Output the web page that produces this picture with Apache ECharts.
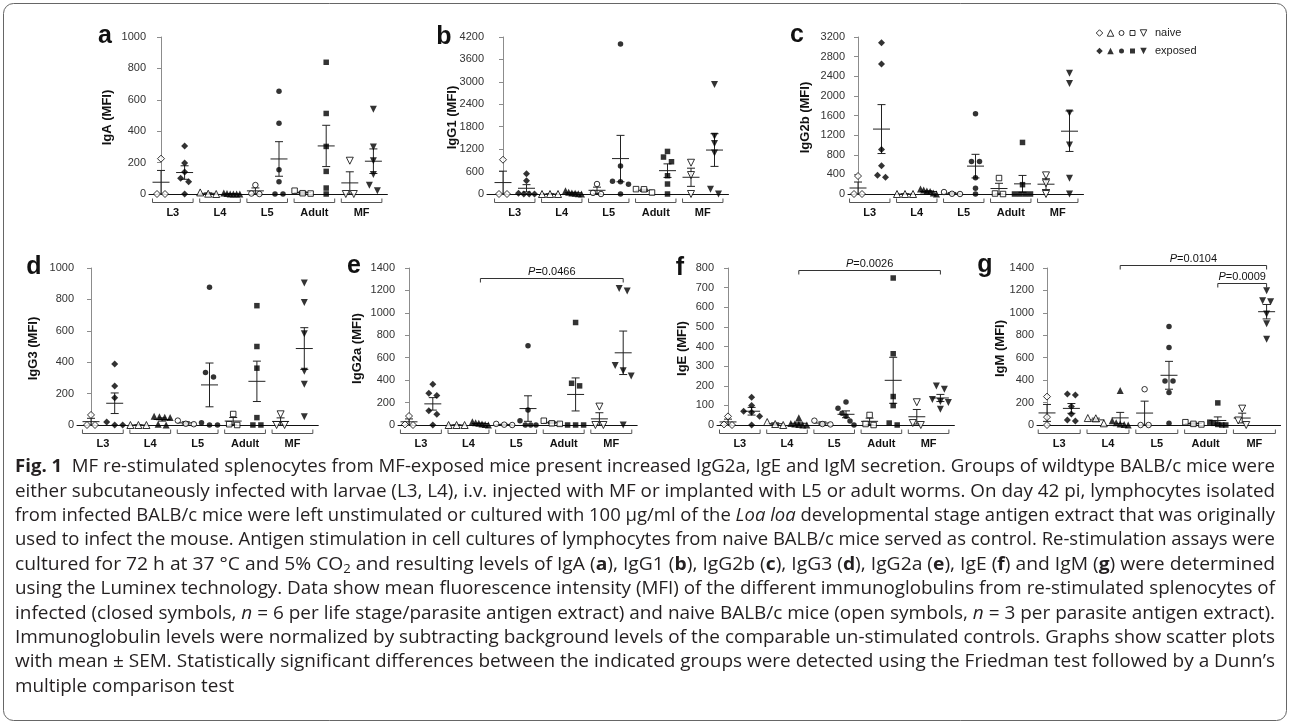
<!DOCTYPE html>
<html><head><meta charset="utf-8">
<script src="https://cdn.jsdelivr.net/npm/echarts/dist/echarts.min.js"></script>
<style>html,body{margin:0;padding:0;background:#fff}#c{width:1290px;height:724px}</style>
</head><body><div id="c"></div>
<script>
// ---------------- DATA ----------------
const groups = ['L3', 'L4', 'L5', 'Adult', 'MF'];
const panelLetters = ['a', 'b', 'c', 'd', 'e', 'f', 'g'];
const panelTitles = ['IgA (MFI)', 'IgG1 (MFI)', 'IgG2b (MFI)', 'IgG3 (MFI)', 'IgG2a (MFI)', 'IgE (MFI)', 'IgM (MFI)'];
const yMaxes = [1000, 4200, 3200, 1000, 1400, 800, 1400];
const yIntervals = [200, 600, 400, 200, 200, 100, 200];

// values per group [L3, L4, L5, Adult, MF]
const igA_naive = [[225, 0, 0], [10, 2, 0], [57, 3, 0], [21, 5, 3], [212, 0, 0]];
const igA_exposed = [[305, 197, 140, 100, 78, 0], [6, 3, 0, 0, 0, 0], [655, 451, 155, 78, 0, 0], [839, 513, 303, 144, 38, 0], [540, 300, 212, 125, 55, 21]];
const igG1_naive = [[917, 0, 0], [0, 0, 0], [267, 30, 0], [130, 125, 40], [836, 507, 0]];
const igG1_exposed = [[543, 356, 20, 0, 0, 0], [90, 50, 30, 20, 5, 0], [4013, 747, 338, 329, 258, 0], [1139, 988, 863, 489, 267, 0], [2928, 1548, 1352, 1100, 125, 0]];
const igG2b_naive = [[366, 0, 0], [0, 0, 0], [40, 5, 0], [325, 10, 0], [380, 220, 0]];
const igG2b_exposed = [[3085, 2651, 908, 576, 380, 339], [100, 80, 60, 50, 20, 0], [1634, 664, 664, 332, 115, 0], [1051, 190, 0, 0, 0, 0], [2460, 2250, 1650, 1000, 320, 0]];
const igG3_naive = [[64, 0, 0], [0, 0, 0], [28, 8, 5], [70, 5, 0], [68, 0, 0]];
const igG3_exposed = [[389, 249, 174, 19, 0, 0], [55, 52, 50, 48, 5, 0], [877, 334, 306, 15, 0, 0], [760, 500, 362, 47, 0, 0], [904, 781, 581, 343, 260, 53]];
const igG2a_naive = [[80, 5, 0], [0, 0, 0], [10, 3, 0], [38, 15, 10], [164, 0, 0]];
const igG2a_exposed = [[363, 283, 262, 128, 95, 0], [30, 20, 15, 10, 5, 0], [706, 134, 39, 0, 0, 0], [914, 372, 349, 0, 0, 0], [1218, 1194, 530, 483, 438, 0]];
const igE_naive = [[44, 3, 0], [15, 5, 0], [22, 5, 3], [51, 5, 0], [116, 10, 0]];
const igE_exposed = [[141, 100, 70, 65, 45, 0], [37, 8, 5, 3, 0, 0], [117, 85, 60, 45, 20, 0], [749, 363, 145, 99, 10, 0], [199, 182, 130, 120, 115, 80]];
const igM_naive = [[253, 70, 0], [62, 60, 15], [319, 0, 0], [25, 10, 5], [146, 40, 0]];
const igM_exposed = [[277, 268, 164, 98, 45, 36], [307, 39, 20, 10, 5, 0], [879, 691, 393, 393, 289, 15], [197, 25, 15, 5, 0, 0], [1197, 1108, 1100, 989, 903, 765]];

// significance annotations
const pLabels = ['0.0466', '0.0026', '0.0104', '0.0009'];
const pPanels = [4, 5, 6, 6];
const pFromCol = [3, 3, 3, 7];
const pToCol = [9, 9, 9, 9];

const captionLines = [
  '{b|Fig. 1} ~ MF re-stimulated splenocytes from MF-exposed mice present increased IgG2a, IgE and IgM secretion. Groups of wildtype BALB/c mice were',
  'either subcutaneously infected with larvae (L3, L4), i.v. injected with MF or implanted with L5 or adult worms. On day 42 pi, lymphocytes isolated',
  'from infected BALB/c mice were left unstimulated or cultured with 100 µg/ml of the {i|Loa loa} developmental stage antigen extract that was originally',
  'used to infect the mouse. Antigen stimulation in cell cultures of lymphocytes from naive BALB/c mice served as control. Re-stimulation assays were',
  'cultured for 72 h at 37 °C and 5% CO{s|2} and resulting levels of IgA ({b|a}), IgG1 ({b|b}), IgG2b ({b|c}), IgG3 ({b|d}), IgG2a ({b|e}), IgE ({b|f}) and IgM ({b|g}) were determined',
  'using the Luminex technology. Data show mean fluorescence intensity (MFI) of the different immunoglobulins from re-stimulated splenocytes of',
  'infected (closed symbols, {i|n} = 6 per life stage/parasite antigen extract) and naive BALB/c mice (open symbols, {i|n} = 3 per parasite antigen extract).',
  'Immunoglobulin levels were normalized by subtracting background levels of the comparable un-stimulated controls. Graphs show scatter plots',
  'with mean ± SEM. Statistically significant differences between the indicated groups were detected using the Friedman test followed by a Dunn’s',
  'multiple comparison test'
];

// ---------------- LAYOUT ----------------
const layout = [
  {ax: 149, c0: 161, sp: 23.6, top: 37, bot: 194, tx: 107, lx: 105, ly: 36},
  {ax: 487, c0: 503, sp: 23.5, top: 37, bot: 194, tx: 452, lx: 444, ly: 37},
  {ax: 848, c0: 858, sp: 23.5, top: 37, bot: 194, tx: 805, lx: 797, ly: 35},
  {ax: 77, c0: 91, sp: 23.7, top: 268, bot: 425, tx: 33, lx: 34, ly: 267},
  {ax: 398, c0: 409, sp: 23.8, top: 268, bot: 425, tx: 357, lx: 354, ly: 266},
  {ax: 717, c0: 728, sp: 23.6, top: 268, bot: 425, tx: 682, lx: 680, ly: 268},
  {ax: 1037, c0: 1047, sp: 24.4, top: 268, bot: 425, tx: 1000, lx: 985, ly: 265}
];
const pOffsets = [10, 2, -3, 15];
const naiveSets = [igA_naive, igG1_naive, igG2b_naive, igG3_naive, igG2a_naive, igE_naive, igM_naive];
const exposedSets = [igA_exposed, igG1_exposed, igG2b_exposed, igG3_exposed, igG2a_exposed, igE_exposed, igM_exposed];
const symbols = ['diamond', 'triangle', 'circle', 'rect', 'path://M0,0L10,0L5,9Z'];
const symSizes = [7, 7, 5.5, 5.5, 7];
const AX_FONT = '"Liberation Sans", Arial, sans-serif';

function jitterOffsets(vals, maxV, H, spPx) {
  const idx = vals.map((v, i) => i).sort((a, b) => vals[b] - vals[a]);
  const offs = new Array(vals.length).fill(0);
  const thr = 5.5;
  let cluster = [idx[0]];
  const flush = () => {
    const k = cluster.length;
    if (k > 1) {
      const step = Math.min(8, 16 / (k - 1));
      cluster.forEach((ii, j) => { offs[ii] = (j - (k - 1) / 2) * step / spPx; });
    }
  };
  for (let j = 1; j < idx.length; j++) {
    const prev = cluster[cluster.length - 1];
    if ((vals[prev] - vals[idx[j]]) / maxV * H < thr) cluster.push(idx[j]);
    else { flush(); cluster = [idx[j]]; }
  }
  flush();
  return offs;
}
function meanSem(vals) {
  const n = vals.length;
  const m = vals.reduce((a, b) => a + b, 0) / n;
  const sd = Math.sqrt(vals.reduce((a, b) => a + (b - m) * (b - m), 0) / (n - 1));
  return [m, sd / Math.sqrt(n)];
}

const grids = [], xAxes = [], yAxes = [], series = [], graphics = [];

layout.forEach((L, p) => {
  const right = L.c0 + 9 * L.sp + 14;
  const W = right - L.ax, H = L.bot - L.top;
  grids.push({left: L.ax, top: L.top, width: W, height: H, containLabel: false, outerBoundsMode: 'none'});
  const xmin = -(L.c0 - L.ax) / L.sp;
  xAxes.push({type: 'value', gridIndex: p, min: xmin, max: xmin + W / L.sp,
    axisLine: {show: true, onZero: false, lineStyle: {color: '#111', width: 1}},
    axisTick: {show: false}, axisLabel: {show: false}, splitLine: {show: false}});
  yAxes.push({type: 'value', gridIndex: p, min: 0, max: yMaxes[p], interval: yIntervals[p],
    axisLine: {show: true, lineStyle: {color: '#8c8c8c', width: 1}},
    axisTick: {show: true, length: 4, lineStyle: {color: '#8c8c8c'}},
    axisLabel: {fontSize: 11, color: '#333', margin: 3, fontFamily: AX_FONT, formatter: v => String(v)},
    splitLine: {show: false}});

  const pts = [], stats = [];
  for (let k = 0; k < 5; k++) {
    for (let t = 0; t < 2; t++) {
      const vals = t ? exposedSets[p][k] : naiveSets[p][k];
      const col = 2 * k + t;
      const offs = jitterOffsets(vals, yMaxes[p], H, L.sp);
      vals.forEach((v, j) => pts.push({
        value: [col + offs[j], v], symbol: symbols[k], symbolSize: symSizes[k],
        itemStyle: t ? {color: '#000', borderWidth: 0} : {color: '#fff', borderColor: '#000', borderWidth: 1}
      }));
      const ms = meanSem(vals);
      stats.push([col, ms[0], ms[1]]);
    }
  }
  series.push({type: 'custom', xAxisIndex: p, yAxisIndex: p, data: stats, clip: false, z: 2, silent: true,
    renderItem: (params, api) => {
      const x = api.value(0), m = api.value(1), s = api.value(2);
      const pm = api.coord([x, m]), ph = api.coord([x, m + s]), pl = api.coord([x, m - s]);
      const st = {stroke: '#222', lineWidth: 1};
      return {type: 'group', children: [
        {type: 'line', shape: {x1: pm[0] - 8.5, y1: pm[1], x2: pm[0] + 8.5, y2: pm[1]}, style: st},
        {type: 'line', shape: {x1: ph[0], y1: ph[1], x2: pl[0], y2: pl[1]}, style: st},
        {type: 'line', shape: {x1: ph[0] - 4, y1: ph[1], x2: ph[0] + 4, y2: ph[1]}, style: st},
        {type: 'line', shape: {x1: pl[0] - 4, y1: pl[1], x2: pl[0] + 4, y2: pl[1]}, style: st}
      ]};
    }});
  series.push({type: 'scatter', xAxisIndex: p, yAxisIndex: p, data: pts, clip: false, z: 3, silent: true});
  // group brackets + labels
  series.push({type: 'custom', xAxisIndex: p, yAxisIndex: p, clip: false, z: 2, silent: true,
    data: groups.map((g, k) => [2 * k + 0.5, 0, k]),
    renderItem: (params, api) => {
      const c = api.coord([api.value(0), 0]);
      const hw = api.size([1, 0])[0] * 0.86;
      const y = Math.round(c[1] + 8) + 0.5;
      return {type: 'group', children: [
        {type: 'polyline', shape: {points: [[c[0] - hw, y - 4], [c[0] - hw, y], [c[0] + hw, y], [c[0] + hw, y - 4]]},
          style: {stroke: '#555', lineWidth: 1, fill: null}},
        {type: 'text', x: c[0], y: c[1] + 19, style: {text: groups[api.value(2)], font: 'bold 11px ' + AX_FONT,
          fill: '#111', align: 'center', verticalAlign: 'middle', textAlign: 'center', textVerticalAlign: 'middle'}}
      ]};
    }});
  // title & letter
  graphics.push({type: 'text', x: L.tx, y: (L.top + L.bot) / 2 + 2, rotation: Math.PI / 2,
    style: {text: panelTitles[p], font: 'bold 13px ' + AX_FONT, fill: '#111', align: 'center', verticalAlign: 'middle',
      textAlign: 'center', textVerticalAlign: 'middle'}});
  graphics.push({type: 'text', x: L.lx, y: L.ly,
    style: {text: panelLetters[p], font: 'bold 25px ' + AX_FONT, fill: '#111', align: 'center', verticalAlign: 'middle',
      textAlign: 'center', textVerticalAlign: 'middle'}});
});

// significance brackets
pLabels.forEach((lab, i) => {
  const p = pPanels[i], L = layout[p];
  series.push({type: 'custom', xAxisIndex: p, yAxisIndex: p, clip: false, z: 4, silent: true,
    data: [[pFromCol[i], yMaxes[p], pToCol[i]]],
    renderItem: (params, api) => {
      const a = api.coord([api.value(0), api.value(1)]);
      const b = api.coord([api.value(2), api.value(1)]);
      const y = Math.round(L.top + pOffsets[i]) + 0.5;
      return {type: 'group', children: [
        {type: 'polyline', shape: {points: [[a[0], y + 4], [a[0], y], [b[0], y], [b[0], y + 4]]},
          style: {stroke: '#333', lineWidth: 1, fill: null}},
        {type: 'text', x: (a[0] + b[0]) / 2, y: y - 7, style: {text: '{i|P}=' + lab,
          rich: {i: {fontStyle: 'italic', fontSize: 11, fontFamily: AX_FONT, fill: '#111'}},
          font: '11px ' + AX_FONT, fill: '#111', align: 'center', verticalAlign: 'middle', textAlign: 'center', textVerticalAlign: 'middle'}}
      ]};
    }});
});

// legend (symbols via a small grid)
const LG = 7;
grids.push({left: 1094, top: 24, width: 55, height: 36, outerBoundsMode: 'none'});
xAxes.push({type: 'value', gridIndex: LG, min: 0, max: 5, show: false});
yAxes.push({type: 'value', gridIndex: LG, min: 0, max: 2, show: false});
const legendPts = [];
for (let k = 0; k < 5; k++) {
  legendPts.push({value: [k + 0.5, 1.5], symbol: symbols[k], symbolSize: symSizes[k] - 0.5,
    itemStyle: {color: '#fff', borderColor: '#000', borderWidth: 1}});
  legendPts.push({value: [k + 0.5, 0.5], symbol: symbols[k], symbolSize: symSizes[k] - 0.5,
    itemStyle: {color: '#000', borderWidth: 0}});
}
series.push({type: 'scatter', xAxisIndex: LG, yAxisIndex: LG, data: legendPts, clip: false, silent: true});
graphics.push({type: 'text', x: 1155, y: 33, style: {text: 'naive', font: '11px ' + AX_FONT, fill: '#222', verticalAlign: 'middle', textVerticalAlign: 'middle'}});
graphics.push({type: 'text', x: 1155, y: 51, style: {text: 'exposed', font: '11px ' + AX_FONT, fill: '#222', verticalAlign: 'middle', textVerticalAlign: 'middle'}});

// frame
graphics.push({type: 'rect', shape: {x: 3.5, y: 3.5, width: 1283, height: 717, r: 10},
  style: {fill: null, stroke: '#666', lineWidth: 1}, z: -1});

// caption with justified lines
const CAP_FAM = '"Open Sans", "Noto Sans", sans-serif';
const capFs = 18;
const ctx = document.createElement('canvas').getContext('2d');
function fontFor(s, fs) {
  if (s === 'b') return `700 ${fs}px ${CAP_FAM}`;
  if (s === 'i') return `italic 400 ${fs}px ${CAP_FAM}`;
  if (s === 's') return `400 ${(fs * 0.68).toFixed(2)}px ${CAP_FAM}`;
  return `400 ${fs}px ${CAP_FAM}`;
}
function measure(t, s, fs) { ctx.font = fontFor(s, fs); return ctx.measureText(t).width; }
function parseLine(str) {
  const segs = []; const re = /\{(b|i|s)\|([^}]*)\}/g; let last = 0, m;
  while ((m = re.exec(str))) {
    if (m.index > last) segs.push({t: str.slice(last, m.index), s: 'r'});
    segs.push({t: m[2], s: m[1]}); last = re.lastIndex;
  }
  if (last < str.length) segs.push({t: str.slice(last), s: 'r'});
  const words = [[]];
  segs.forEach(sg => {
    sg.t.split(' ').forEach((part, pi) => {
      if (pi > 0) words.push([]);
      if (part) words[words.length - 1].push({t: part, s: sg.s});
    });
  });
  return words.filter(w => w.length);
}
const capLeft = 15, capRight = 1275, capTop = 467, capLH = 24.4;
const target = capRight - capLeft;
const parsed = captionLines.map(parseLine);
const wordW = (w, fs) => w.reduce((a, pc) => a + (pc.t === '~' ? 0 : measure(pc.t, pc.s, fs)), 0);
const spaceW = measure(' ', 'r', capFs);
const natural = parsed.map(words => words.reduce((a, w) => a + wordW(w, capFs), 0) + (words.length - 1) * spaceW);
let sMin = 10;
natural.forEach((n, li) => { if (li < parsed.length - 1) sMin = Math.min(sMin, target / n); });
parsed.forEach((words, li) => {
  const last = li === parsed.length - 1;
  const sc = last ? sMin * 1.02 : Math.min(target / natural[li], sMin * 1.05);
  const widths = words.map(w => wordW(w, capFs) * sc);
  const total = widths.reduce((a, b) => a + b, 0);
  const gap = last ? spaceW * sc : (target - total) / (words.length - 1);
  let x = capLeft;
  const y = capTop + li * capLH;
  words.forEach((w) => {
    w.forEach(pc => {
      if (pc.t === '~') return;
      graphics.push({type: 'text', x: x, y: pc.s === 's' ? y + capFs * 0.25 : y, scaleX: sc, scaleY: 1,
        style: {text: pc.t, font: fontFor(pc.s, capFs), fill: '#231f20', align: 'left', verticalAlign: 'middle',
          textAlign: 'left', textVerticalAlign: 'middle'}});
      x += measure(pc.t, pc.s, capFs) * sc;
    });
    x += gap;
  });
});

const chart = echarts.init(document.getElementById('c'), null, {renderer: 'canvas'});
chart.setOption({
  animation: false,
  backgroundColor: '#fff',
  grid: grids, xAxis: xAxes, yAxis: yAxes, series: series,
  graphic: {elements: graphics}
});
</script>
</body></html>
